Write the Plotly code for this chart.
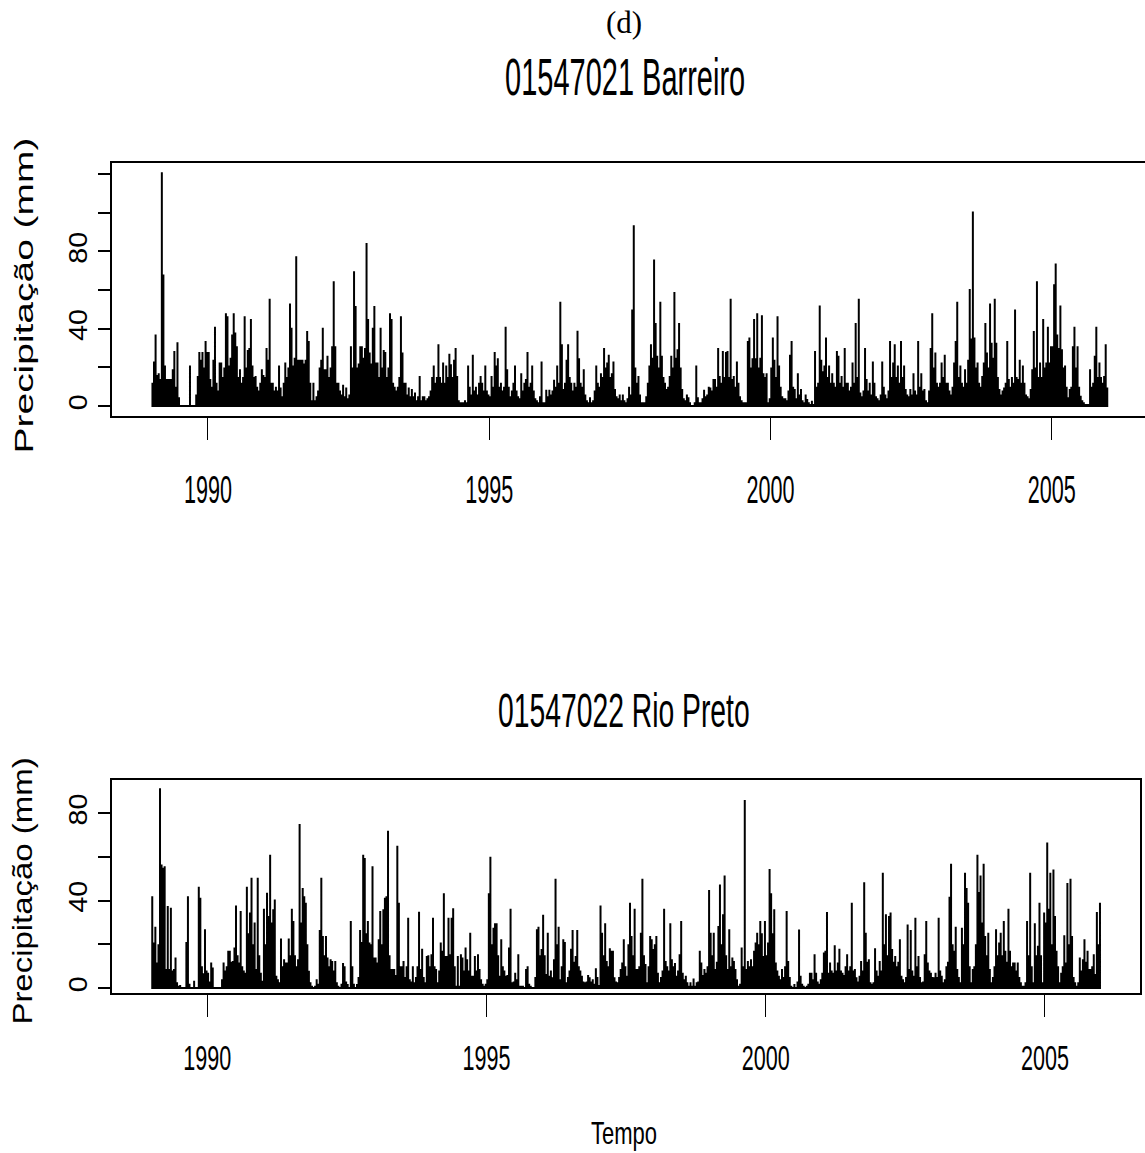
import plotly.graph_objects as go

# Daily precipitation summarised as the peak rainfall of each 10-day period
# (dekad), 36 dekads per year, January 1989 to December 2005.
YEARS = list(range(1989, 2006))
DEKADS_PER_YEAR = 36

# Station 01547021 Barreiro, mm
barreiro_mm = [
    [12, 23, 37, 16, 17, 14, 121, 68, 21, 14, 14, 14, 14, 19, 28.5, 10, 33, 4.5, 0, 0, 0, 0, 0, 0, 21, 0, 0, 0, 6, 15.6, 28, 24, 28, 20, 33.7, 28],
    [28, 14, 10, 24, 41, 12, 8, 22.5, 22.5, 15, 20, 48, 46.5, 21, 25, 37, 48, 38, 31, 15, 19, 12, 15, 46.5, 20, 29, 30, 45, 21, 15, 15.6, 10, 8, 12, 19, 16],
    [15, 30, 24, 55.5, 12, 12, 8, 10, 8, 21, 9.6, 5, 12, 22.5, 15, 20, 53, 40.5, 21, 25, 77.5, 24, 24, 24, 24, 22, 24, 38.8, 33.7, 12, 3, 12, 3, 5, 8, 20],
    [24, 40.5, 19, 19, 26, 15, 20, 31, 64.6, 31, 12, 12, 8, 6, 11, 5, 9.6, 4, 6, 31, 20, 69.8, 51.7, 20, 22, 31, 31, 25, 30, 84.4, 45, 27.7, 22, 40.5, 51.7, 22.5],
    [22.5, 15, 40.5, 20, 29, 28, 15, 20, 48, 45, 12, 10, 8, 10, 15, 46.5, 27.7, 12, 12, 6, 9.6, 5, 8.8, 5, 7, 3, 5, 15.6, 3, 5, 5, 3, 4, 5, 8, 15],
    [21, 12, 15, 32, 15, 12, 22.5, 12, 21, 15, 27, 21.6, 15, 24, 30, 15.6, 3, 2, 2, 2, 3, 2, 21, 10, 6, 26.5, 8, 10, 6, 12, 15.6, 12, 8, 21, 8, 6],
    [5, 15.6, 10, 28, 21, 24.7, 10, 12, 8, 10, 41, 19, 10, 5, 8, 12, 21, 8, 5, 4, 17, 8, 12, 14, 28, 10, 12, 21, 8, 4, 3, 2, 5, 23, 2, 2],
    [8.4, 5, 8.4, 6, 8, 13.6, 10, 21, 12, 54, 32, 8.8, 12, 24, 32, 15, 12, 8, 12, 10, 39, 24.7, 12, 10, 19, 6, 3, 2, 4.5, 2, 3, 8, 21, 12, 10, 17],
    [15, 30, 20, 22.5, 26.5, 15, 17, 23, 8.8, 5, 4, 6, 3, 6, 3, 2, 4, 10, 6, 50, 93.5, 20, 12, 15.6, 6, 2, 2, 2, 5, 12, 21, 32, 25, 75.8, 43, 26],
    [20, 54, 26, 15, 12, 8.8, 10, 15.6, 26, 20, 59, 25, 29.4, 43, 20, 8.8, 4, 3, 6, 4.5, 2, 0, 0, 2, 21, 4.5, 2, 2, 4, 8.4, 5, 6, 10, 9.6, 8, 14],
    [14, 10, 30, 15.6, 12, 28.5, 15, 28, 28.5, 15, 55.5, 14, 15.6, 10, 23, 12, 5, 3, 2, 2, 2, 33.7, 35.4, 20, 24.7, 45, 24.7, 48, 20, 25, 47, 17, 15, 17, 2, 4],
    [20, 35.4, 24, 15, 46.5, 21, 10, 5, 4, 4, 3, 8, 26.5, 33.7, 10, 8.8, 4, 17, 6, 8.8, 3, 2, 6, 3.6, 2, 1, 2.7, 1, 28.5, 10, 12, 52, 24, 18, 21, 35.4],
    [15, 21, 12, 17, 12, 10, 28.5, 26, 12, 15.6, 10, 30, 12, 12, 8, 10, 22.5, 12, 43, 15, 55.5, 7, 5, 8, 30, 14, 8, 12, 6, 23, 12, 5, 4, 3, 6, 23],
    [10, 6, 4, 8, 33.7, 15, 22.5, 32, 15, 21, 12, 33.7, 15, 21, 8.8, 6, 5, 8.8, 6, 17, 8, 6, 33.7, 10, 17, 8, 8.8, 3, 2, 8, 30, 48, 20, 27.7, 12, 10],
    [12, 22.5, 15, 26.5, 12, 12, 8, 6, 10, 22.5, 33.7, 54, 15, 21, 12, 10, 19, 12, 24, 60.6, 35, 100.7, 35.4, 20, 22.5, 12, 10, 15.6, 22.5, 43, 27.7, 20, 53, 32.8, 25, 55.5],
    [32.8, 15, 8.8, 6, 8, 9.6, 12, 33.7, 14, 10, 15, 12, 50, 15, 14, 24, 12, 21, 12, 6, 5, 4, 8.8, 19, 38.8, 20, 64.6, 15, 22.5, 15, 45, 20, 22.5, 41, 22.5, 31],
    [31, 63, 73.7, 37, 30, 52, 29.4, 20, 21, 10, 4.5, 8.8, 10, 31, 41, 20, 31, 10, 5.3, 3, 2, 1, 1, 1, 19, 10, 12, 26, 41, 15, 22.5, 15, 12, 15.6, 32, 9.6],
]

# Station 01547022 Rio Preto, mm
rio_preto_mm = [
    [42, 20.8, 28, 11.7, 20, 91.4, 56.5, 55, 55.7, 8.7, 37.5, 8.7, 36.7, 8, 8.7, 14, 2.6, 1, 1.4, 0, 0, 0, 21, 42, 2, 0, 0, 3.3, 0, 0, 46.3, 41.3, 10, 6.8, 26.9, 8],
    [7, 3, 11.7, 9.4, 0, 0, 0, 0, 0, 4, 11.7, 8, 10, 17, 17, 12, 12.4, 18.5, 37.8, 15, 11.7, 35.2, 10, 8, 7, 46.3, 25, 34.5, 50.4, 20, 30, 8.7, 50.4, 15, 7, 3.3],
    [36.3, 20, 43.6, 33, 61, 30, 36, 40.5, 5.6, 4, 2.6, 22.6, 10, 13.2, 11.7, 11.7, 22.6, 15, 36.3, 30.7, 15, 10, 13.2, 75, 30, 45.8, 42, 39, 20, 7.9, 2.6, 1, 0, 1, 4, 2],
    [26.6, 50.4, 23.8, 15, 23.8, 14, 10, 13.2, 12.4, 8, 12.4, 2.6, 1, 0, 2, 11.4, 10, 3, 1.8, 0, 30.7, 10, 2, 0, 1.8, 5, 26.6, 21, 61, 59.5, 25, 30.7, 20.8, 20, 55.7, 14],
    [14, 11.7, 22.3, 35.2, 20, 36, 41.3, 42, 72, 15, 8.7, 8.7, 8.7, 6, 65.1, 39, 10, 10, 12.4, 5, 10, 32.2, 4, 3, 10, 2.6, 5, 10, 34.9, 8.7, 18, 5, 2.6, 14.7, 15, 10],
    [15.5, 32.2, 10, 8.7, 2.6, 8, 20.8, 17, 43.3, 14.7, 14.7, 32.2, 15.5, 32.2, 36.5, 10, 1, 14.7, 1, 15.5, 14, 8, 18.5, 13.2, 8, 25.3, 5.6, 5.6, 14.7, 8, 15.5, 8.7, 4, 2, 1, 2],
    [4, 43.3, 60, 20, 27.6, 29.6, 29.6, 15, 5.6, 22.3, 10, 8, 5.6, 6, 18.5, 36.3, 2.6, 3, 7, 4, 15.5, 1, 1, 1, 0, 8.7, 10, 2, 1, 0, 0, 5, 26.9, 28, 15, 17.8],
    [33.5, 15, 6.4, 25.3, 5.6, 8, 4.9, 13.2, 50, 20, 28, 4, 10, 22.3, 21, 2.6, 5, 8, 18, 26.6, 12, 14.7, 26.6, 10, 8, 5.6, 3, 2.6, 3, 5.9, 4.9, 3, 4, 2, 9, 5],
    [1.4, 37.8, 25.3, 15, 29.6, 12.4, 10, 18.2, 17, 17, 4.9, 3, 2.6, 5, 8.7, 11.7, 22.3, 10, 5.6, 20, 39, 23.8, 15, 36.3, 8.7, 8.7, 10, 25.3, 50, 15, 11, 2.6, 10, 23.8, 22.3, 17.8],
    [20, 23.8, 7, 2.6, 5, 8, 36.3, 12.4, 10, 8, 29.6, 13.2, 10, 11.4, 5.6, 8, 15.5, 30.7, 7, 4, 5.6, 2.6, 1, 2.6, 1, 4.4, 1, 2.6, 3, 17, 11.7, 6, 8.7, 7, 10, 44.8],
    [25.3, 15, 25.3, 8.7, 12, 28.4, 47.4, 20, 33.7, 51.5, 15, 8.7, 26.9, 10, 14, 12.4, 8.7, 4, 1, 2, 18.5, 10, 86, 8.7, 12.4, 10, 13.2, 10, 17, 20.8, 25.3, 20, 30.7, 25, 14.7, 30.7],
    [15, 20.8, 54.5, 43.3, 25, 36, 11.7, 8, 5.6, 4, 8.7, 5, 10, 35.2, 12.4, 5, 1, 0, 1.8, 0, 3, 26.8, 5.6, 2, 1, 0, 1, 2, 7, 7, 4, 15.5, 7, 3, 2, 4],
    [7, 16.2, 17, 34.8, 7, 11.7, 8, 7, 19.6, 8, 11.7, 18, 8, 7, 6, 10, 15.5, 8, 10, 39, 8, 8.7, 4.9, 3, 5.6, 12.4, 8, 48.4, 25.3, 12, 13.2, 2.6, 2, 2.6, 18.2, 8],
    [5.6, 12.4, 8, 52.7, 20, 33.7, 15, 32.9, 34.5, 17.8, 12, 14.7, 10, 12, 22.3, 5.6, 4, 2.6, 5, 29.1, 8.7, 26.6, 8, 5.6, 32.2, 10, 14.7, 5, 2.6, 3, 15.5, 30.7, 11.7, 8, 7, 5],
    [4.9, 7, 5, 32.2, 8, 5.6, 2.6, 4, 10, 12, 41.7, 56.8, 20, 17, 28, 8.7, 5, 2.6, 27.6, 20, 52.7, 45.8, 39, 10, 2.6, 8.7, 10, 20, 61, 43.9, 51.5, 30, 56.8, 23.8, 15, 25.3],
    [8.7, 2.6, 5, 10, 26.9, 15, 20.8, 25.3, 15, 30.7, 17, 12, 36.3, 17, 10, 11.7, 11.7, 8, 11.7, 5, 2.6, 1, 1, 2.6, 30.7, 15, 52.7, 10, 2.6, 29.6, 15, 19.3, 39, 15, 2.6, 34.5],
    [30, 66.6, 36.3, 52.7, 20, 54.2, 32.9, 17, 10, 2.6, 7, 10, 24.1, 11.7, 48.1, 20, 50, 23.8, 5, 2.6, 1, 2.6, 14, 8, 13.2, 22.3, 12, 17, 8.7, 8.7, 10, 15.5, 6.4, 34.8, 20, 39],
]

X_TICKS = [1990, 1995, 2000, 2005]
Y_TICKS_TOP = [0, 20, 40, 60, 80, 100, 120]
Y_LABELS_TOP = ["0", "", "40", "", "80", "", ""]
Y_TICKS_BOTTOM = [0, 20, 40, 60, 80]
Y_LABELS_BOTTOM = ["0", "", "40", "", "80"]

TITLE_TOP = "01547021 Barreiro"
TITLE_BOTTOM = "01547022 Rio Preto"
PANEL_TAG = "(d)"
X_TITLE = "Tempo"
Y_TITLE = "Precipitação (mm)"

W, H = 1145, 1153
SANS = "Liberation Sans, Arial, sans-serif"
SERIF = "Liberation Serif, Times New Roman, serif"


def stem_path(rows):
    """Vertical strokes from zero up to each dekad peak, joined along the zero line."""
    xs, ys = [], []
    for year, row in zip(YEARS, rows):
        for k, v in enumerate(row):
            t = year + (k + 0.5) / DEKADS_PER_YEAR
            xs += [t, t, t]
            ys += [0, v, 0]
    return xs, ys


def fx(px):
    return px / W


def fy(py):
    return 1 - py / H


x_top, y_top = stem_path(barreiro_mm)
x_bot, y_bot = stem_path(rio_preto_mm)

fig = go.Figure()
fig.add_trace(go.Scatter(x=x_top, y=y_top, mode="lines", xaxis="x", yaxis="y",
                         line=dict(color="black", width=2), hoverinfo="skip",
                         showlegend=False))
fig.add_trace(go.Scatter(x=x_bot, y=y_bot, mode="lines", xaxis="x2", yaxis="y2",
                         line=dict(color="black", width=2), hoverinfo="skip",
                         showlegend=False))

common_x = dict(showline=True, linewidth=2, linecolor="black", mirror=True,
                ticks="outside", ticklen=22, tickwidth=1, tickcolor="black",
                tickvals=X_TICKS, ticktext=[str(v) for v in X_TICKS],
                tickfont=dict(family=SANS, size=21.6, color="black"),
                showgrid=False, zeroline=False, fixedrange=True)
common_y = dict(showline=True, linewidth=2, linecolor="black",
                ticks="outside", ticklen=12, tickwidth=2, tickcolor="black",
                tickangle=-90, tickfont=dict(family=SANS, size=25, color="black"),
                showgrid=False, zeroline=False, fixedrange=True,
                ticklabelstandoff=1)

fig.update_layout(
    width=W, height=H, autosize=False,
    margin=dict(l=0, r=0, t=0, b=0, pad=0),
    paper_bgcolor="white", plot_bgcolor="white",
    font=dict(family=SANS, color="black"),
    xaxis=dict(common_x, domain=[fx(112.3), 1.0], range=[1988.30, 2006.657],
               anchor="y", ticklabelstandoff=31),
    yaxis=dict(common_y, domain=[fy(415.7), fy(163.3)], range=[-5.0, 125.6],
               anchor="x", mirror=False,
               tickvals=Y_TICKS_TOP, ticktext=Y_LABELS_TOP),
    xaxis2=dict(common_x, domain=[fx(112), fx(1140)], range=[1988.293, 2006.703],
                anchor="y2", ticklabelstandoff=23),
    yaxis2=dict(common_y, domain=[fy(993), fy(780)], range=[-2.28, 95.17],
                anchor="x2", mirror=True,
                tickvals=Y_TICKS_BOTTOM, ticktext=Y_LABELS_BOTTOM),
    annotations=[
        dict(text=PANEL_TAG, x=fx(624), y=fy(22), xref="paper", yref="paper",
             showarrow=False, xanchor="center", yanchor="middle",
             font=dict(family=SERIF, size=31, color="black")),
        dict(text=TITLE_TOP, x=fx(625), y=fy(77), xref="paper", yref="paper",
             showarrow=False, xanchor="center", yanchor="middle",
             font=dict(family=SANS, size=29, color="black")),
        dict(text=TITLE_BOTTOM, x=fx(624), y=fy(710), xref="paper", yref="paper",
             showarrow=False, xanchor="center", yanchor="middle",
             font=dict(family=SANS, size=28.3, color="black")),
        dict(text=X_TITLE, x=fx(624), y=fy(1133), xref="paper", yref="paper",
             showarrow=False, xanchor="center", yanchor="middle",
             font=dict(family=SANS, size=22, color="black")),
        dict(text=Y_TITLE, x=fx(23.5), y=fy(295.5), xref="paper", yref="paper",
             showarrow=False, xanchor="center", yanchor="middle", textangle=-90,
             font=dict(family=SANS, size=26.5, color="black")),
        dict(text=Y_TITLE, x=fx(23.5), y=fy(891), xref="paper", yref="paper",
             showarrow=False, xanchor="center", yanchor="middle", textangle=-90,
             font=dict(family=SANS, size=27, color="black")),
    ],
)

# The lettering of this figure is elongated in the page-vertical direction;
# scale each label about its own centre after plotly has laid it out.
stretch_js = """
(function(){
  var gd = document.getElementById('{plot_id}');
  function stretch(el, sx, sy){
    if (!el || el.getAttribute('data-stretched')) return;
    var b = el.getBBox();
    var cx = b.x + b.width / 2, cy = b.y + b.height / 2;
    var old = el.getAttribute('transform') || '';
    el.setAttribute('transform', old + ' translate(' + cx + ',' + cy + ') scale(' + sx + ',' + sy + ') translate(' + (-cx) + ',' + (-cy) + ')');
    el.setAttribute('data-stretched', '1');
  }
  var ann = {1: [1, 1.78], 2: [1, 1.72], 3: [1, 1.45], 4: [1.47, 1], 5: [1.22, 1]};
  Object.keys(ann).forEach(function(i){
    var t = gd.querySelector('g.annotation[data-index="' + i + '"] text.annotation-text');
    stretch(t, ann[i][0], ann[i][1]);
  });
  gd.querySelectorAll('g.xtick text').forEach(function(t){ stretch(t, 1, 1.8); });
  gd.querySelectorAll('g.x2tick text').forEach(function(t){ stretch(t, 1, 1.59); });
  gd.querySelectorAll('g.ytick text, g.y2tick text').forEach(function(t){ stretch(t, 1.15, 1); });
})();
"""

fig.write_html("out.html", post_script=stretch_js, config={"displayModeBar": False})
